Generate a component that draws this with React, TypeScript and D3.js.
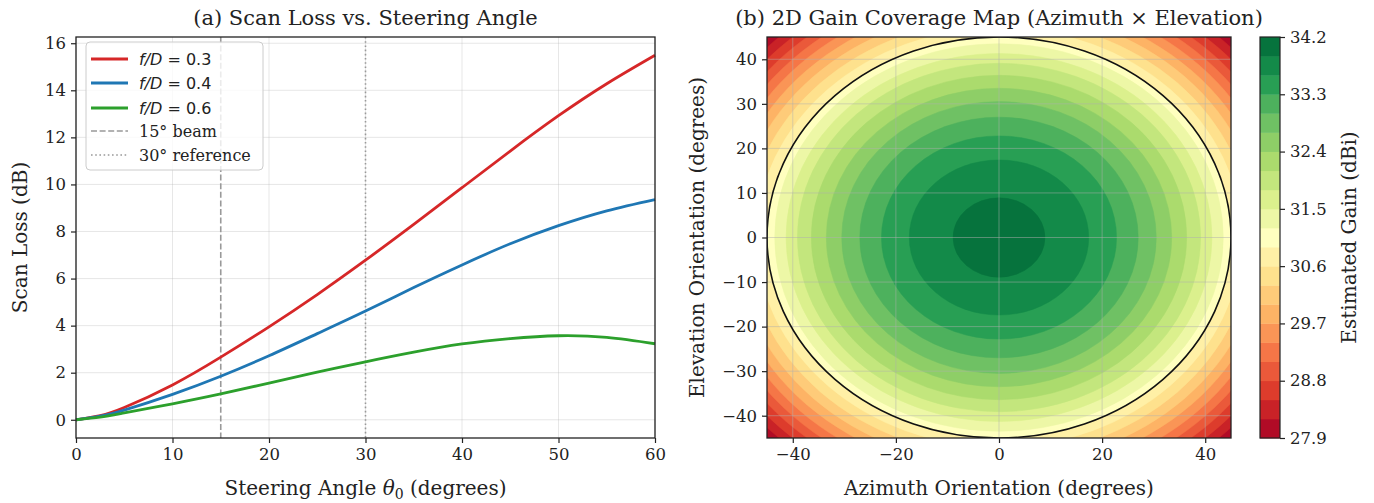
import * as d3 from "d3";
import { useEffect, useRef } from "react";

// scan loss curves (dB)
const angles = [0, 2.5, 5, 10, 15, 20, 25, 30, 35, 40, 45, 50, 55, 60];
const lossFd03 = [0, 0.18, 0.52, 1.48, 2.66, 3.95, 5.32, 6.78, 8.3, 9.86, 11.42, 12.92, 14.28, 15.49];
const lossFd04 = [0, 0.15, 0.41, 1.08, 1.85, 2.72, 3.66, 4.62, 5.62, 6.58, 7.48, 8.25, 8.88, 9.36];
const lossFd06 = [0, 0.11, 0.29, 0.68, 1.1, 1.56, 2.02, 2.46, 2.87, 3.22, 3.45, 3.57, 3.5, 3.23];
const fdValues = ["0.3", "0.4", "0.6"];
const lineColors = ["#d62728", "#1f77b4", "#2ca02c"];
const angleTicks = [0, 10, 20, 30, 40, 50, 60];
const lossTicks = [0, 2, 4, 6, 8, 10, 12, 14, 16];

// gain contour levels (dBi) and the off-boresight radius (deg) where each level sits
const gainLevels = [27.9, 28.2, 28.5, 28.8, 29.1, 29.4, 29.7, 30.0, 30.3, 30.6, 30.9,
  31.2, 31.5, 31.8, 32.1, 32.4, 32.7, 33.0, 33.3, 33.6, 33.9, 34.2];
const levelRadius = [63.7, 62.0, 60.2, 58.4, 56.6, 54.8, 52.9, 51.0, 49.0, 47.0, 45.0,
  43.5, 41.3, 39.1, 36.4, 33.5, 30.5, 27.0, 22.8, 17.4, 8.9, 0];
const coverageRadius = 45;
const azTicks = [-40, -20, 0, 20, 40];
const elTicks = [-40, -30, -20, -10, 0, 10, 20, 30, 40];

const rdylgn = ["#a50026", "#d73027", "#f46d43", "#fdae61", "#fee08b", "#ffffbf",
  "#d9ef8b", "#a6d96a", "#66bd63", "#1a9850", "#006837"];

const SERIF = "DejaVu Serif";
const SANS = "DejaVu Sans";

const App = () => {
  const svgRef = useRef<SVGSVGElement | null>(null);

  useEffect(() => {
    const svg = d3.select(svgRef.current);
    svg.selectAll("*").remove();

    const cmap = d3
      .scaleLinear<string>()
      .domain(d3.range(11).map((i) => i / 10))
      .range(rdylgn)
      .interpolate(d3.interpolateRgb);
    const nBands = gainLevels.length - 1;
    const bandColor = (i: number) => cmap((i + 0.5) / nBands);

    const minus = (v: number) => (v < 0 ? "\u2212" + Math.abs(v) : String(v));

    // ---------------- left panel ----------------
    const L = { x0: 76, x1: 655, y0: 37, y1: 438 };
    const x = d3.scaleLinear().domain([0, 60]).range([L.x0, L.x1]);
    const y = d3.scaleLinear().domain([-0.775, 16.265]).range([L.y1, L.y0]);

    const left = svg.append("g");
    const grid = left.append("g").attr("stroke", "#b0b0b0").attr("stroke-opacity", 0.35).attr("stroke-width", 0.9);
    angleTicks.forEach((t) => grid.append("line").attr("x1", x(t)).attr("x2", x(t)).attr("y1", L.y0).attr("y2", L.y1));
    lossTicks.forEach((t) => grid.append("line").attr("x1", L.x0).attr("x2", L.x1).attr("y1", y(t)).attr("y2", y(t)));

    left.append("line").attr("x1", x(15)).attr("x2", x(15)).attr("y1", L.y0).attr("y2", L.y1)
      .attr("stroke", "#999").attr("stroke-width", 1.6).attr("stroke-dasharray", "6,2.6");
    left.append("line").attr("x1", x(30)).attr("x2", x(30)).attr("y1", L.y0).attr("y2", L.y1)
      .attr("stroke", "#999").attr("stroke-width", 1.6).attr("stroke-dasharray", "1.6,2.6");

    const line = d3.line<number>().x((_, i) => x(angles[i])).y((d) => y(d)).curve(d3.curveNatural);
    [lossFd03, lossFd04, lossFd06].forEach((s, k) => {
      left.append("path").attr("d", line(s)).attr("fill", "none")
        .attr("stroke", lineColors[k]).attr("stroke-width", 2.8);
    });

    left.append("rect").attr("x", L.x0).attr("y", L.y0).attr("width", L.x1 - L.x0).attr("height", L.y1 - L.y0)
      .attr("fill", "none").attr("stroke", "#222").attr("stroke-width", 1.3);

    const xAxis = left.append("g").attr("transform", `translate(0,${L.y1})`)
      .call(d3.axisBottom(x).tickValues(angleTicks).tickSize(5).tickPadding(5));
    const yAxis = left.append("g").attr("transform", `translate(${L.x0},0)`)
      .call(d3.axisLeft(y).tickValues(lossTicks).tickSize(5).tickPadding(5));
    [xAxis, yAxis].forEach((a) => {
      a.select(".domain").remove();
      a.selectAll("line").attr("stroke", "#222").attr("stroke-width", 1.2);
      a.selectAll("text").attr("font-family", SERIF).attr("font-size", 16.5).attr("fill", "#222");
    });

    // legend
    const lg = left.append("g");
    lg.append("rect").attr("x", 86).attr("y", 42).attr("width", 177).attr("height", 128).attr("rx", 4)
      .attr("fill", "white").attr("fill-opacity", 0.8).attr("stroke", "#ccc").attr("stroke-width", 1);
    const rowY = [59, 83, 108, 131, 155];
    fdValues.forEach((fd, k) => {
      lg.append("line").attr("x1", 91).attr("x2", 128).attr("y1", rowY[k]).attr("y2", rowY[k])
        .attr("stroke", lineColors[k]).attr("stroke-width", 2.8);
      const t = lg.append("text").attr("x", 139).attr("y", rowY[k] + 6).attr("font-family", SANS)
        .attr("font-size", 16).attr("fill", "#222");
      t.append("tspan").attr("font-style", "italic").text("f/D");
      t.append("tspan").text(" = " + fd);
    });
    lg.append("line").attr("x1", 91).attr("x2", 128).attr("y1", rowY[3]).attr("y2", rowY[3])
      .attr("stroke", "#999").attr("stroke-width", 1.6).attr("stroke-dasharray", "6,2.6");
    lg.append("line").attr("x1", 91).attr("x2", 128).attr("y1", rowY[4]).attr("y2", rowY[4])
      .attr("stroke", "#999").attr("stroke-width", 1.6).attr("stroke-dasharray", "1.6,2.6");
    lg.append("text").attr("x", 139).attr("y", rowY[3] + 6).attr("font-family", SERIF).attr("font-size", 16)
      .attr("fill", "#222").text("15° beam");
    lg.append("text").attr("x", 139).attr("y", rowY[4] + 6).attr("font-family", SERIF).attr("font-size", 16)
      .attr("fill", "#222").text("30° reference");

    left.append("text").attr("x", (L.x0 + L.x1) / 2).attr("y", 25).attr("text-anchor", "middle")
      .attr("font-family", SERIF).attr("font-size", 21).attr("fill", "#222").text("(a) Scan Loss vs. Steering Angle");
    const xl = left.append("text").attr("x", (L.x0 + L.x1) / 2).attr("y", 495).attr("text-anchor", "middle")
      .attr("font-family", SERIF).attr("font-size", 20).attr("fill", "#222");
    xl.append("tspan").text("Steering Angle ");
    xl.append("tspan").attr("font-style", "italic").text("θ");
    xl.append("tspan").attr("font-size", 14).attr("dy", 4).text("0");
    xl.append("tspan").attr("dy", -4).text(" (degrees)");
    left.append("text").attr("transform", `translate(27,${(L.y0 + L.y1) / 2}) rotate(-90)`)
      .attr("text-anchor", "middle").attr("font-family", SERIF).attr("font-size", 20).attr("fill", "#222")
      .text("Scan Loss (dB)");

    // ---------------- right panel ----------------
    const R = { x0: 767, x1: 1231, y0: 37, y1: 438 };
    const az = d3.scaleLinear().domain([-45, 45]).range([R.x0, R.x1]);
    const el = d3.scaleLinear().domain([-45, 45]).range([R.y1, R.y0]);

    const right = svg.append("g");
    right.append("clipPath").attr("id", "mapclip").append("rect")
      .attr("x", R.x0).attr("y", R.y0).attr("width", R.x1 - R.x0).attr("height", R.y1 - R.y0);
    const map = right.append("g").attr("clip-path", "url(#mapclip)");
    map.append("rect").attr("x", R.x0).attr("y", R.y0).attr("width", R.x1 - R.x0).attr("height", R.y1 - R.y0)
      .attr("fill", bandColor(0));
    const cx = az(0);
    const cy = el(0);
    for (let k = 1; k < nBands; k++) {
      const r = levelRadius[k];
      map.append("ellipse").attr("cx", cx).attr("cy", cy)
        .attr("rx", az(r) - az(0)).attr("ry", el(0) - el(r))
        .attr("fill", bandColor(k)).attr("stroke", bandColor(k)).attr("stroke-width", 0.5);
    }
    const mgrid = map.append("g").attr("stroke", "#b0b0b0").attr("stroke-opacity", 0.55).attr("stroke-width", 0.9);
    azTicks.forEach((t) => mgrid.append("line").attr("x1", az(t)).attr("x2", az(t)).attr("y1", R.y0).attr("y2", R.y1));
    elTicks.forEach((t) => mgrid.append("line").attr("x1", R.x0).attr("x2", R.x1).attr("y1", el(t)).attr("y2", el(t)));
    map.append("ellipse").attr("cx", cx).attr("cy", cy)
      .attr("rx", az(coverageRadius) - az(0)).attr("ry", el(0) - el(coverageRadius))
      .attr("fill", "none").attr("stroke", "#111").attr("stroke-width", 1.6);

    right.append("rect").attr("x", R.x0).attr("y", R.y0).attr("width", R.x1 - R.x0).attr("height", R.y1 - R.y0)
      .attr("fill", "none").attr("stroke", "#222").attr("stroke-width", 1.3);

    const azAxis = right.append("g").attr("transform", `translate(0,${R.y1})`)
      .call(d3.axisBottom(az).tickValues(azTicks).tickFormat((d) => minus(+d)).tickSize(5).tickPadding(5));
    const elAxis = right.append("g").attr("transform", `translate(${R.x0},0)`)
      .call(d3.axisLeft(el).tickValues(elTicks).tickFormat((d) => minus(+d)).tickSize(5).tickPadding(5));
    [azAxis, elAxis].forEach((a) => {
      a.select(".domain").remove();
      a.selectAll("line").attr("stroke", "#222").attr("stroke-width", 1.2);
      a.selectAll("text").attr("font-family", SERIF).attr("font-size", 16.5).attr("fill", "#222");
    });

    right.append("text").attr("x", (R.x0 + R.x1) / 2).attr("y", 25).attr("text-anchor", "middle")
      .attr("font-family", SERIF).attr("font-size", 21).attr("fill", "#222")
      .text("(b) 2D Gain Coverage Map (Azimuth × Elevation)");
    right.append("text").attr("x", (R.x0 + R.x1) / 2).attr("y", 495).attr("text-anchor", "middle")
      .attr("font-family", SERIF).attr("font-size", 20).attr("fill", "#222").text("Azimuth Orientation (degrees)");
    right.append("text").attr("transform", `translate(704,${(R.y0 + R.y1) / 2}) rotate(-90)`)
      .attr("text-anchor", "middle").attr("font-family", SERIF).attr("font-size", 20).attr("fill", "#222")
      .text("Elevation Orientation (degrees)");

    // colorbar
    const C = { x0: 1260, x1: 1280 };
    const g = d3.scaleLinear().domain([gainLevels[0], gainLevels[nBands]]).range([R.y1, R.y0]);
    const cb = right.append("g");
    for (let k = 0; k < nBands; k++) {
      cb.append("rect").attr("x", C.x0).attr("width", C.x1 - C.x0)
        .attr("y", g(gainLevels[k + 1])).attr("height", g(gainLevels[k]) - g(gainLevels[k + 1]) + 0.4)
        .attr("fill", bandColor(k));
    }
    cb.append("rect").attr("x", C.x0).attr("y", R.y0).attr("width", C.x1 - C.x0).attr("height", R.y1 - R.y0)
      .attr("fill", "none").attr("stroke", "#222").attr("stroke-width", 1.2);
    const cbAxis = cb.append("g").attr("transform", `translate(${C.x1},0)`)
      .call(d3.axisRight(g).tickValues(gainLevels.filter((_, i) => i % 3 === 0))
        .tickFormat((d) => (+d).toFixed(1)).tickSize(5).tickPadding(5));
    cbAxis.select(".domain").remove();
    cbAxis.selectAll("line").attr("stroke", "#222").attr("stroke-width", 1.2);
    cbAxis.selectAll("text").attr("font-family", SERIF).attr("font-size", 16.5).attr("fill", "#222");
    cb.append("text").attr("transform", `translate(1356,${(R.y0 + R.y1) / 2}) rotate(-90)`)
      .attr("text-anchor", "middle").attr("font-family", SERIF).attr("font-size", 20).attr("fill", "#222")
      .text("Estimated Gain (dBi)");
  }, []);

  return (
    <div>
      <svg ref={svgRef} width={1374} height={503} style={{ position: "absolute", left: 0, top: 0, background: "white" }}></svg>
    </div>
  );
};

export default App;
